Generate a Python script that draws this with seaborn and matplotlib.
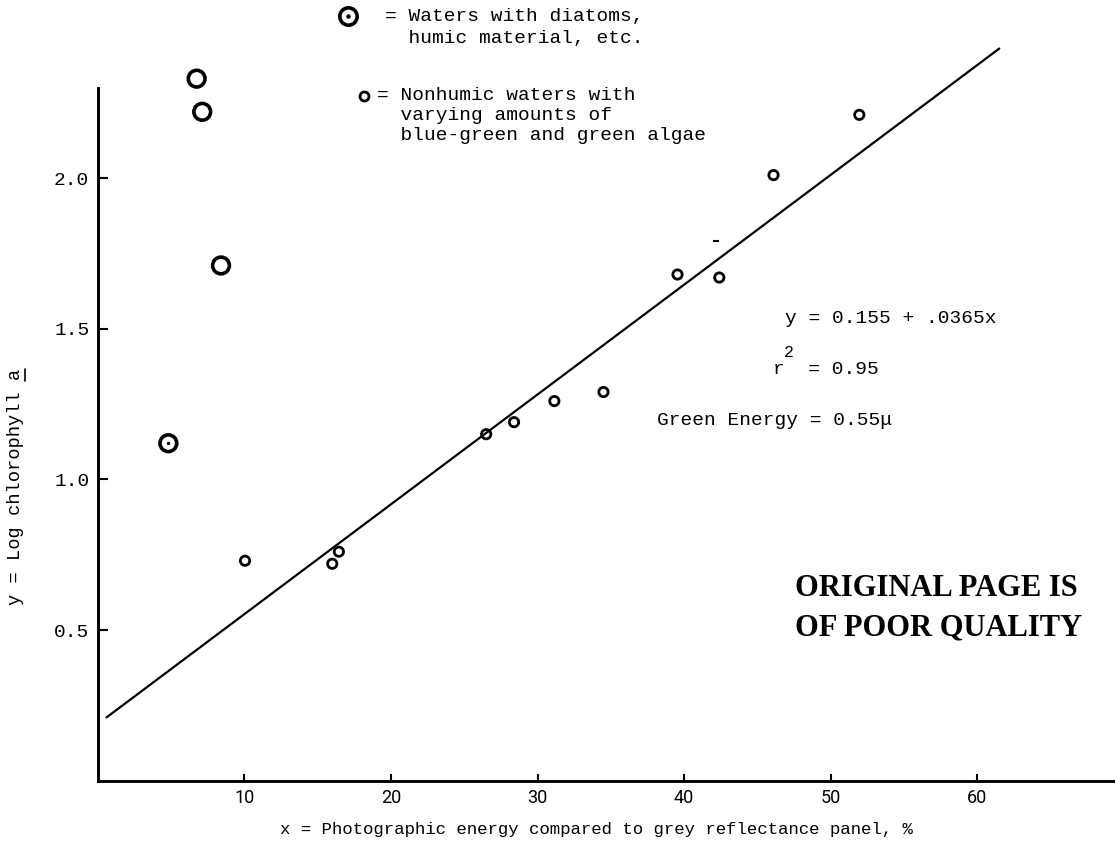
import matplotlib
matplotlib.use("Agg")
import matplotlib.pyplot as plt
import matplotlib.font_manager as fm
from matplotlib.lines import Line2D
import seaborn as sns
import pandas as pd

# ---------------- data ----------------
humic_x = [6.75, 7.13, 8.41, 4.82]
humic_y = [2.33, 2.22, 1.71, 1.12]
humic_dotted = [False, False, False, True]

nonhumic_x = [10.05, 16.0, 16.45, 26.5, 28.4, 31.15, 34.5, 39.55, 42.4, 46.1, 51.95]
nonhumic_y = [0.73, 0.72, 0.76, 1.15, 1.19, 1.26, 1.29, 1.68, 1.67, 2.01, 2.21]

fit_x = [0.6, 61.5]
fit_y = [0.21, 2.43]

x_ticks = [10, 20, 30, 40, 50, 60]
y_ticks = [0.5, 1.0, 1.5, 2.0]
y_ticklabels = ["0.5", "1.0", "1.5", "2.0"]

legend_humic = ["= Waters with diatoms,", "  humic material, etc."]
legend_nonhumic = ["= Nonhumic waters with", "  varying amounts of", "  blue-green and green algae"]
eq_text = "y = 0.155 + .0365x"
r2_text = "r  = 0.95"
energy_text = "Green Energy = 0.55\u03bc"
stamp_lines = ["ORIGINAL PAGE IS", "OF POOR QUALITY"]
x_label = "x = Photographic energy compared to grey reflectance panel, %"
y_label = "y = Log chlorophyll a"

# ---------------- style ----------------
sns.set_theme(style="ticks")
names = {f.name for f in fm.fontManager.ttflist}
MONO = ["Liberation Mono", "DejaVu Sans Mono"]
NARROW = "Liberation Sans Narrow" if "Liberation Sans Narrow" in names else "Roboto"
plt.rcParams["font.family"] = MONO

W, H = 1115, 855
fig = plt.figure(figsize=(W / 100, H / 100), dpi=100)
fig.patch.set_facecolor("white")

def fx(px):
    return px / W

def fy(py):
    return 1 - py / H

x0_px, y0_px = 97.7, 780.7
top_px = 88
ax = fig.add_axes([fx(x0_px), fy(y0_px), 1 - fx(x0_px), (y0_px - top_px) / H])
ax.set_facecolor("white")
ax.set_xlim(0, (W - x0_px) / 14.66)
ax.set_ylim(0, (y0_px - top_px) / 301.3)

# fit line
sns.lineplot(x=fit_x, y=fit_y, ax=ax, color="black", linewidth=1.6, estimator=None,
             sort=False, clip_on=False)

# humic (large) circles
df_h = pd.DataFrame({"x": humic_x, "y": humic_y, "dot": humic_dotted})
sns.scatterplot(data=df_h, x="x", y="y", ax=ax, marker="o", s=145, facecolor="none",
                edgecolor="black", linewidth=2.6, clip_on=False, zorder=5)
df_hd = df_h[df_h["dot"]]
sns.scatterplot(data=df_hd, x="x", y="y", ax=ax, marker="o", s=6, color="black",
                linewidth=0, zorder=6)

# nonhumic (small) circles
df_n = pd.DataFrame({"x": nonhumic_x, "y": nonhumic_y})
sns.scatterplot(data=df_n, x="x", y="y", ax=ax, marker="o", s=45, facecolor="none",
                edgecolor="black", linewidth=2.0, zorder=5)

# stray dash near the line
ax.plot([42.2], [1.79], marker="_", ms=5, mew=1.5, color="black")

# axes styling
for side in ["top", "right"]:
    ax.spines[side].set_visible(False)
for side in ["left", "bottom"]:
    ax.spines[side].set_linewidth(2.1)
    ax.spines[side].set_color("black")

ax.set_xticks(x_ticks)
ax.set_xticklabels([str(t) for t in x_ticks], fontfamily=NARROW, fontsize=13)
ax.set_yticks(y_ticks)
ax.set_yticklabels(y_ticklabels, fontfamily=MONO, fontsize=14)
ax.tick_params(axis="x", direction="in", length=5, width=1.5, pad=6, colors="black")
ax.tick_params(axis="y", direction="in", length=7, width=1.5, pad=6, colors="black")

ax.set_xlabel(x_label, fontsize=12.5, color="black")
ax.xaxis.set_label_coords((596 - x0_px) / (W - x0_px), -(822 - y0_px) / (y0_px - top_px))
ax.set_ylabel(y_label, fontsize=13.5, color="black")
ax.yaxis.set_label_coords((24 - x0_px) / (W - x0_px), (y0_px - 487) / (y0_px - top_px))

# legend (drawn in figure coordinates)
fig.add_artist(Line2D([fx(348)], [fy(16)], marker="o", ms=12.5, mfc="none", mec="black",
                      mew=2.6, transform=fig.transFigure))
fig.add_artist(Line2D([fx(348)], [fy(16)], marker="o", ms=2.2, mfc="black", mec="black",
                      transform=fig.transFigure))
fig.add_artist(Line2D([fx(364)], [fy(96)], marker="o", ms=6.5, mfc="none", mec="black",
                      mew=2.0, transform=fig.transFigure))
for i, line in enumerate(legend_humic):
    fig.text(fx(385), fy(16 + 23 * i), line, fontsize=14, va="center", ha="left", color="black")
for i, line in enumerate(legend_nonhumic):
    fig.text(fx(377), fy(96 + 20 * i), line, fontsize=14, va="center", ha="left", color="black")

# equation annotations
fig.text(fx(785), fy(318), eq_text, fontsize=14, va="center", ha="left", color="black")
fig.text(fx(773), fy(369), r2_text, fontsize=14, va="center", ha="left", color="black")
fig.text(fx(784), fy(352), "2", fontsize=12, va="center", ha="left", color="black")
fig.text(fx(657), fy(420), energy_text, fontsize=14, va="center", ha="left", color="black")

# stamp
for i, line in enumerate(stamp_lines):
    fig.text(fx(795), fy(588 + 40 * i), line, fontsize=22, fontweight="bold",
             fontfamily="Liberation Serif", va="center", ha="left", color="black")

# underline the "a" in the y label
fig.canvas.draw()
ylab = ax.yaxis.label
bb = ylab.get_window_extent()
char_h = bb.height / len(y_label)
ux = bb.x1 + 1
fig.add_artist(Line2D([ux / W, ux / W], [(bb.y1 - char_h * 1.05) / H, (bb.y1 - 0.5) / H],
                      color="black", lw=1.2, transform=fig.transFigure))

fig.savefig("out.png", dpi=100, facecolor="white")
